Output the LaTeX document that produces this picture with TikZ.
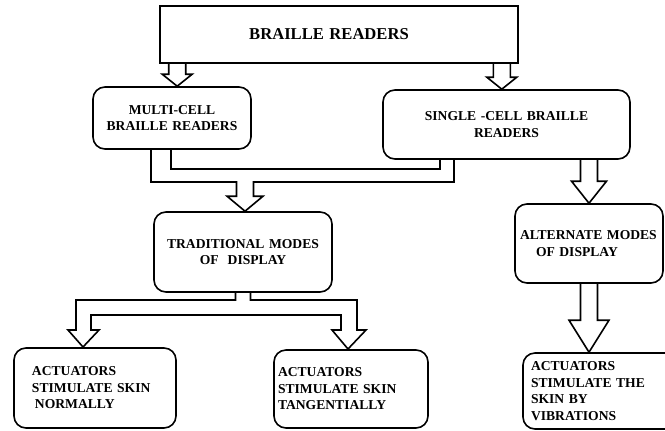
\documentclass[tikz,border=0pt]{standalone}
\usepackage{fontspec}
\setmainfont{Liberation Serif}
\usetikzlibrary{calc}

\tikzset{
	box/.style={draw, line width=1.6bp, rounded corners=12bp, inner xsep=4bp, inner ysep=0bp, font=\fontsize{13.6bp}{16.5bp}\selectfont\bfseries},
	blockarrow/.style={draw, line width=1.6bp, line cap=rect, line join=miter},
}
% hollow arrow: from, to, head length, head half width
\newcommand{\hollowarrow}[4]{%
	\draw[blockarrow] let \p1=(#1), \p2=(#2) in
		({\x1-8.5bp},\y1) -- ({\x1-8.5bp},{\y2+#3}) -- ({\x1-#4},{\y2+#3}) -- (\x1,\y2)
		-- ({\x1+#4},{\y2+#3}) -- ({\x1+8.5bp},{\y2+#3}) -- ({\x1+8.5bp},\y1);}

\begin{document}
\begin{tikzpicture}[x=1bp, y=-1bp]
	\useasboundingbox (0,0) rectangle (665,430);
	\clip (0,0) rectangle (665,430);

	\node[box, sharp corners, text width=350bp, align=center, minimum height=57bp, font=\fontsize{16.6bp}{19bp}\selectfont\bfseries] (top) at (339,34.5) {BRAILLE READERS\kern20bp};
	\node[box, text width=150bp, align=center, minimum height=62bp] (multi) at (172,118) {MULTI-CELL\\BRAILLE READERS};
	\node[box, text width=239bp, align=center, minimum height=69bp] (single) at (506.5,124.5) {SINGLE -CELL BRAILLE\\READERS};
	\node[box, text width=170bp, align=center, minimum height=80bp] (trad) at (243,252) {TRADITIONAL MODES\\OF\ \ DISPLAY};
	\node[box, inner xsep=5bp, text width=138bp, align=left, minimum height=79bp] (alt) at (589,243.5) {ALTERNATE MODES\\\hspace*{16bp}OF DISPLAY};
	\node[box, inner xsep=18bp, text width=126bp, align=left, minimum height=80bp] (normal) at (95,388) {ACTUATORS\\STIMULATE SKIN\\\hspace*{3bp}NORMALLY};
	\node[box, text width=146bp, align=left, minimum height=78bp] (tangent) at (351,389) {ACTUATORS\\STIMULATE SKIN\\TANGENTIALLY};
	\node[box, inner xsep=8bp, text width=150bp, align=left, minimum height=76bp] (vibra) at (606,391) {ACTUATORS\\STIMULATE THE\\SKIN BY\\VIBRATIONS};

	\coordinate (m1) at (151,182); \coordinate (m2) at (171,169);
	\coordinate (s1) at (454,182); \coordinate (s2) at (440,169);
	\coordinate (j) at (245,182);

	\hollowarrow{[xshift=18bp]top.south west}{multi.north}{12bp}{15bp}
	\hollowarrow{[xshift=-17bp]top.south east}{single.north}{12bp}{15bp}

	\draw[blockarrow] (multi.south -| m1) -- (m1) -- ([xshift=-8.5bp]j) ([xshift=8.5bp]j) -- (s1) -- (single.south -| s1);
	\draw[blockarrow] (multi.south -| m2) -- (m2) -- (s2) -- (single.south -| s2);
	\hollowarrow{j}{trad.north}{15bp}{18bp}

	\draw[blockarrow] ([xshift=-7.5bp]trad.south) |- (76,300) -- (76,330) -- (68,330) -- (83,347) -- (99,330) -- (91,330)
		-- (91,315) -- (341,315) -- (341,330) -- (332,330) -- (348,349) -- (366,330) -- (357,330) -- (357,300) -| ([xshift=7.5bp]trad.south);

	\hollowarrow{alt.north |- single.south}{alt.north}{22bp}{17.5bp}
	\hollowarrow{alt.south}{vibra.north}{32bp}{20bp}
\end{tikzpicture}
\end{document}
